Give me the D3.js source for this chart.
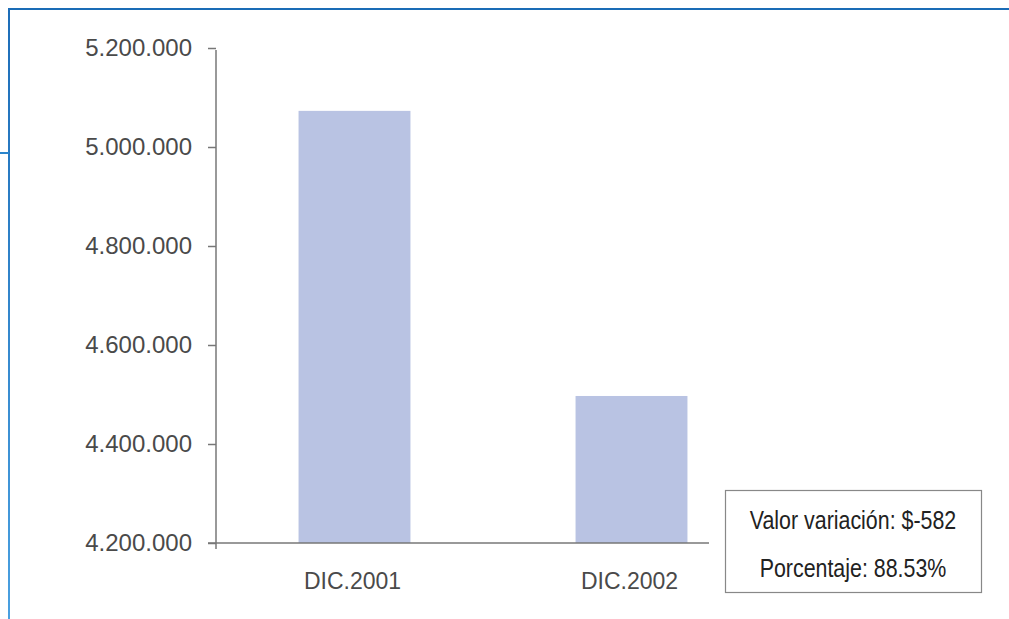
<!DOCTYPE html>
<html>
<head>
<meta charset="utf-8">
<script src="https://cdn.jsdelivr.net/npm/d3@7"></script>
<style>
  html, body { margin: 0; padding: 0; background: #fff; }
  svg { display: block; }
</style>
</head>
<body>
<svg id="chart" width="1009" height="619"></svg>
<script>
// ---- data ----
const categories = ["DIC.2001", "DIC.2002"];
const values = [5073000, 4497000];
const yTicks = [4200000, 4400000, 4600000, 4800000, 5000000, 5200000];
const noteLines = ["Valor variación: $-582", "Porcentaje: 88.53%"];

const svg = d3.select("#chart");
const locale = d3.formatLocale({ decimal: ",", thousands: ".", grouping: [3], currency: ["$", ""] });
const fmt = locale.format(",.0f");

// frame decoration
const defs = svg.append("defs");
const grad = defs.append("linearGradient").attr("id", "vgrad")
  .attr("x1", 0).attr("y1", 0).attr("x2", 0).attr("y2", 1);
grad.append("stop").attr("offset", "0%").attr("stop-color", "#1d6db8");
grad.append("stop").attr("offset", "100%").attr("stop-color", "#4aa0e0");

svg.append("rect").attr("x", 8).attr("y", 8).attr("width", 1001).attr("height", 2).attr("fill", "#1a6cb6");
svg.append("rect").attr("x", 8).attr("y", 8).attr("width", 2).attr("height", 611).attr("fill", "url(#vgrad)");
svg.append("rect").attr("x", 0).attr("y", 152).attr("width", 9).attr("height", 2).attr("fill", "#2a85cc");

// scales
const y = d3.scaleLinear().domain([4200000, 5200000]).range([543, 48]);
const x = d3.scaleBand().domain(categories).range([216, 770]).paddingInner(0.596).paddingOuter(0.298);

// bars
svg.append("g").selectAll("rect").data(values).join("rect")
  .attr("x", (d, i) => x(categories[i]))
  .attr("width", x.bandwidth())
  .attr("y", d => y(d))
  .attr("height", d => y(4200000) - y(d))
  .attr("fill", "#b9c3e3");

const labelFont = "'Liberation Sans', Arial, sans-serif";

// y axis
const yAxis = svg.append("g").attr("transform", "translate(216,0)")
  .call(d3.axisLeft(y).tickValues(yTicks).tickFormat(fmt).tickSize(8).tickPadding(16));
yAxis.select(".domain").remove();
yAxis.append("line").attr("x1", 0).attr("x2", 0).attr("y1", 50).attr("y2", 549).attr("stroke", "#777").attr("stroke-width", 1.5);
yAxis.selectAll(".tick line").attr("stroke", "#777").attr("stroke-width", 1.5);
yAxis.selectAll(".tick text")
  .attr("fill", "#4a4a4a")
  .style("font-family", labelFont)
  .style("font-size", "24px");

// x axis
const xAxis = svg.append("g").attr("transform", "translate(0,543)")
  .call(d3.axisBottom(x).tickSize(0).tickPadding(30));
xAxis.select(".domain").remove();
xAxis.append("line").attr("x1", 208).attr("x2", 709).attr("y1", 0).attr("y2", 0).attr("stroke", "#777").attr("stroke-width", 1.5);
xAxis.selectAll(".tick text")
  .attr("fill", "#4a4a4a")
  .attr("dx", "-2")
  .style("font-family", labelFont)
  .style("font-size", "23px");

// note box
const box = svg.append("g");
box.append("rect").attr("x", 725.5).attr("y", 490.5).attr("width", 256).attr("height", 102)
  .attr("fill", "#fff").attr("stroke", "#888").attr("stroke-width", 1.2);
box.selectAll("text").data(noteLines).join("text")
  .attr("transform", (d, i) => `translate(853,${529 + i * 48}) scale(0.856,1)`)
  .attr("text-anchor", "middle")
  .attr("fill", "#222")
  .style("font-family", labelFont)
  .style("font-size", "25px")
  .text(d => d);
</script>
</body>
</html>
